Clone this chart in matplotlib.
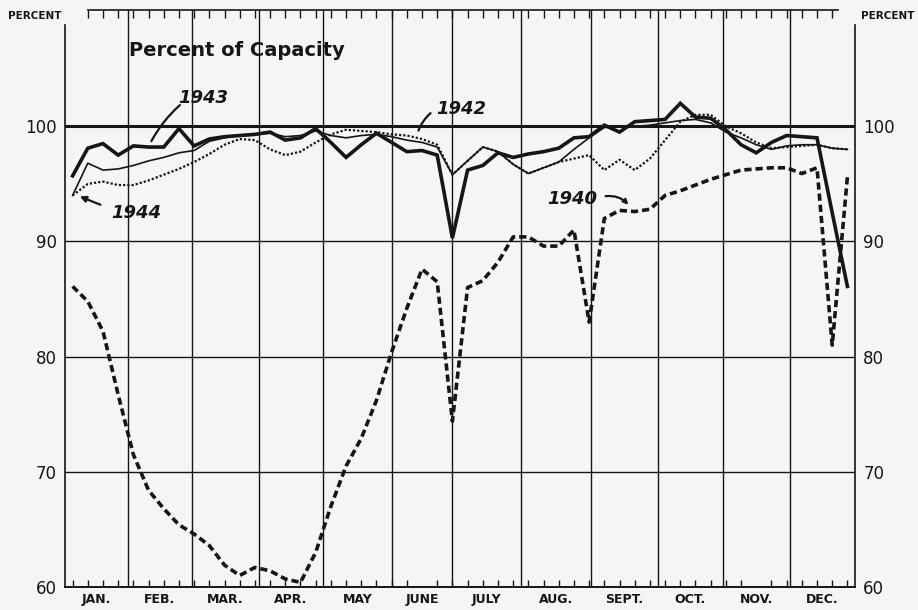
import matplotlib
matplotlib.use("Agg")
import matplotlib.pyplot as plt

# ---------------- data ----------------
months = ["JAN.", "FEB.", "MAR.", "APR.", "MAY", "JUNE", "JULY", "AUG.", "SEPT.", "OCT.", "NOV.", "DEC."]
# month boundaries (in weeks from start of year)
month_bounds = [0, 4.15, 8.35, 12.75, 17.0, 21.5, 25.5, 30.0, 34.6, 39.0, 43.3, 47.7, 52.0]
weeks = [w + 0.5 for w in range(52)]

y1940 = [86.1, 84.8, 82.2, 76.7, 71.5, 68.4, 66.8, 65.4, 64.6, 63.6, 61.9, 61.0,
         61.7, 61.4, 60.7, 60.4, 63.0, 67.0, 70.5, 72.9, 76.2, 80.4, 84.2, 87.6,
         86.5, 74.4, 86.0, 86.6, 88.2, 90.4, 90.4, 89.6, 89.6, 91.0, 83.0, 92.0,
         92.7, 92.6, 92.8, 94.0, 94.4, 94.9, 95.4, 95.8, 96.2, 96.3, 96.4, 96.4,
         95.9, 96.4, 81.0, 95.6]

y1942 = [94.0, 95.0, 95.2, 94.9, 94.9, 95.3, 95.8, 96.3, 96.9, 97.6, 98.4, 98.9,
         98.8, 98.0, 97.5, 97.8, 98.6, 99.3, 99.7, 99.6, 99.5, 99.3, 99.2, 98.9,
         98.4, 95.8, 97.0, 98.2, 97.8, 96.7, 95.9, 96.4, 96.9, 97.2, 97.5, 96.2,
         97.1, 96.2, 97.2, 98.8, 100.4, 101.0, 101.0, 100.0, 99.4, 98.6, 98.1, 98.2,
         98.3, 98.4, 98.1, 98.0]

y1943 = [95.7, 98.1, 98.5, 97.5, 98.3, 98.2, 98.2, 99.8, 98.3, 98.9, 99.1, 99.2,
         99.3, 99.5, 98.8, 99.0, 99.8, 98.6, 97.3, 98.4, 99.4, 98.6, 97.8, 97.9,
         97.5, 90.3, 96.2, 96.6, 97.7, 97.3, 97.6, 97.8, 98.1, 99.0, 99.1, 100.1,
         99.5, 100.4, 100.5, 100.6, 102.0, 100.8, 100.7, 99.7, 98.4, 97.7, 98.6, 99.2,
         99.1, 99.0, 92.5, 86.1]

y1944 = [94.0, 96.8, 96.2, 96.3, 96.6, 97.0, 97.3, 97.7, 97.9, 98.7, 99.0, 99.2,
         99.3, 99.4, 99.1, 99.2, 99.6, 99.2, 99.0, 99.2, 99.3, 99.1, 98.8, 98.6,
         98.2, 95.8, 97.0, 98.2, 97.8, 96.7, 95.9, 96.4, 96.9, 98.0, 99.0, 99.9,
         100.0, 100.0, 100.1, 100.3, 100.5, 100.6, 100.3, 99.5, 99.0, 98.4, 98.0, 98.3,
         98.4, 98.4, 98.1, 98.0]

yticks = [60, 70, 80, 90, 100]

# ---------------- figure ----------------
BG = "#f5f5f3"
INK = "#161616"
W, H = 918, 610
fig = plt.figure(figsize=(W / 100, H / 100), dpi=100, facecolor=BG)
ax = fig.add_axes([65 / W, (H - 587) / H, 790 / W, 577 / H], facecolor=BG)

ax.set_xlim(0, 52)
ax.set_ylim(60, 110.1)

# grid
for v in yticks[:-1]:
    ax.axhline(v, color=INK, lw=1.0, zorder=1)
ax.axhline(100, color=INK, lw=2.2, zorder=2)
for b in month_bounds[1:-1]:
    ax.axvline(b, color=INK, lw=1.0, zorder=1)

# spines
for s in ["left", "right"]:
    ax.spines[s].set_color(INK)
    ax.spines[s].set_linewidth(1.2)
    ax.spines[s].set_bounds(60, 108.8)
ax.spines["bottom"].set_color(INK)
ax.spines["bottom"].set_linewidth(1.4)
ax.spines["top"].set_color(INK)
ax.spines["top"].set_linewidth(1.2)
ax.spines["top"].set_bounds(1.5, 50.9)

# series
ax.plot(weeks, y1940, color=INK, lw=2.6, linestyle=(0, (2.0, 1.1)), zorder=4)
ax.plot(weeks, y1942, color=INK, lw=1.6, linestyle=(0, (1.0, 0.9)), zorder=4)
ax.plot(weeks, y1944, color=INK, lw=1.2, zorder=4)
ax.plot(weeks, y1943, color=INK, lw=2.6, zorder=5, solid_joinstyle="miter")

# ticks (bottom: month names + weekly ticks)
centers = [(month_bounds[i] + month_bounds[i + 1]) / 2 for i in range(12)]
ax.set_xticks(centers)
ax.set_xticklabels(months, fontsize=9, fontweight="bold", color=INK)
ax.set_xticks(weeks, minor=True)
ax.tick_params(axis="x", which="major", length=0, pad=4)
ax.tick_params(axis="x", which="minor", direction="in", length=5, width=1.0,
               color=INK, top=False, bottom=True)

# top weekly ticks only along the drawn top rule
top = ax.secondary_xaxis("top")
top.set_xticks(weeks[1:-1])
top.set_xticks([], minor=True)
top.tick_params(direction="in", length=6, width=1.0, color=INK, labeltop=False)
top.spines["top"].set_visible(False)

ax.set_yticks(yticks)
ax.set_yticklabels([str(v) for v in yticks], fontsize=12, color=INK)
ax.tick_params(axis="y", length=0, left=False, right=False,
               labelleft=True, labelright=True, pad=6)

# texts
ax.text(11.3, 106.6, "Percent of Capacity", fontsize=14, fontweight="bold",
        color=INK, ha="center", va="center")
fig.text(8 / W, 1 - 16 / H, "PERCENT", fontsize=7.5, fontweight="bold", color=INK,
         ha="left", va="center")
fig.text(914 / W, 1 - 16 / H, "PERCENT", fontsize=7.5, fontweight="bold", color=INK,
         ha="right", va="center")

lab = dict(fontsize=13, fontweight="bold", style="italic", color=INK,
           ha="center", va="center")
ax.text(9.1, 102.5, "1943", **lab)
ax.text(4.7, 92.5, "1944", **lab)
ax.text(26.1, 101.5, "1942", **lab)
ax.text(33.4, 93.7, "1940", **lab)

ax.annotate("", xy=(5.6, 98.5), xytext=(7.7, 102.0),
            arrowprops=dict(arrowstyle="-", color=INK, lw=1.6,
                            connectionstyle="arc3,rad=0.1"))
ax.annotate("", xy=(0.8, 94.0), xytext=(2.5, 93.1),
            arrowprops=dict(arrowstyle="-|>", color=INK, lw=1.6,
                            mutation_scale=9, connectionstyle="arc3,rad=0.0"))
ax.annotate("", xy=(23.2, 99.4), xytext=(24.2, 101.3),
            arrowprops=dict(arrowstyle="-", color=INK, lw=1.6,
                            connectionstyle="arc3,rad=0.15"))
ax.annotate("", xy=(37.2, 93.0), xytext=(35.4, 93.9),
            arrowprops=dict(arrowstyle="-|>", color=INK, lw=1.6,
                            mutation_scale=7, connectionstyle="arc3,rad=-0.3"))

fig.savefig("out.png", dpi=100, facecolor=BG)
